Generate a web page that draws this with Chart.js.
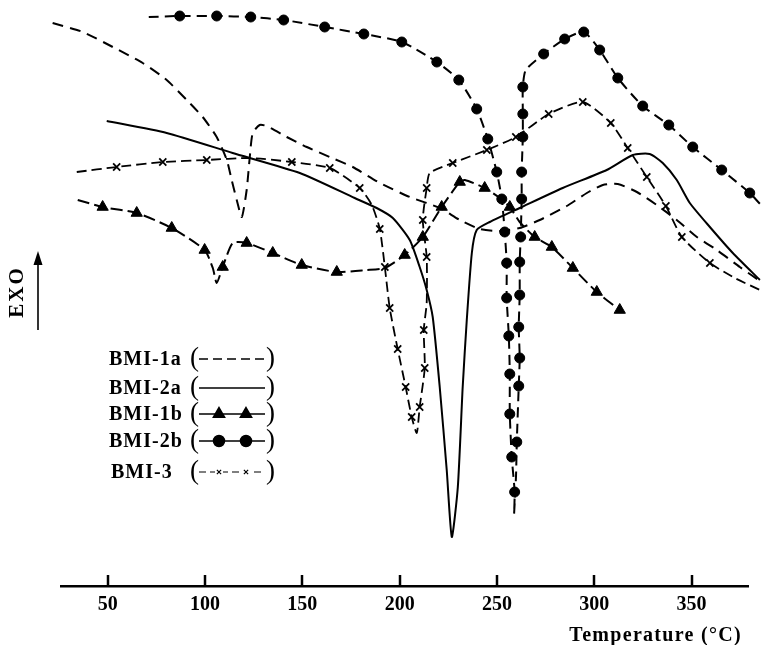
<!DOCTYPE html>
<html><head><meta charset="utf-8">
<script src="https://cdn.jsdelivr.net/npm/chart.js@4/dist/chart.umd.min.js"></script>
<style>html,body{margin:0;padding:0;background:#fff;}canvas{display:block;}</style>
</head><body>
<canvas id="c" width="763" height="645"></canvas>
<script>
// ---- data (temperature °C, relative heat flow) ----
const seriesNames = ['BMI-1a', 'BMI-2a', 'BMI-1b', 'BMI-2b', 'BMI-3'];
const xTickValues = [50, 100, 150, 200, 250, 300, 350];
const xTitle = 'Temperature (°C)';
const yLabel = 'EXO';

const bmi1aCurve = [[21.7,563],[37.2,554],[52.6,539],[68.0,523],[80.3,506],[90.6,486],[98.8,469],[106.0,449],[111.2,426],[113.7,406],[116.3,386],[118.9,369],[121.4,396],[123.0,429],[124.5,453],[128.1,461],[131.7,460],[142.0,449],[152.3,439],[164.1,429],[175.9,419],[189.8,403],[205.2,389],[220.6,378],[230.9,366],[241.2,357],[251.5,355],[261.7,358],[272.0,366],[285.9,380],[296.2,393],[304.4,401],[312.1,402],[321.9,394],[332.1,381],[342.4,366],[352.7,349],[363.0,336],[374.8,319],[386.6,303]];

const bmi2aCurve = [[49.5,465],[80.3,453],[114.2,433],[148.7,413],[176.9,388],[188.2,378],[196.5,368],[205.2,346],[210.3,319],[213.9,296],[217.0,269],[220.6,199],[224.2,116],[226.8,49],[229.9,99],[232.4,199],[234.5,266],[237.1,333],[239.6,356],[246.3,364],[261.7,378],[283.8,398],[306.4,416],[319.8,431],[328.5,432],[335.2,423],[342.4,406],[349.1,383],[359.4,359],[371.2,333],[385.1,306]];

const bmi1bCurve = [[34.6,386],[47.4,379],[64.9,373],[82.9,358],[99.8,336],[104.0,318],[106.0,303],[109.1,319],[114.2,343],[121.4,343],[134.8,333],[149.7,321],[167.7,314],[183.1,316],[192.3,318],[202.6,331],[211.9,349],[221.6,379],[230.9,404],[233.5,406],[243.7,398],[251.5,388],[256.6,379],[261.7,364],[269.4,349],[278.2,339],[289.0,318],[301.3,294],[313.1,276]];
const bmi1bMarks = [[47.4,379],[64.9,373],[82.9,358],[99.8,336],[109.1,319],[121.4,343],[134.8,333],[149.7,321],[167.7,314],[202.6,331],[211.9,349],[221.6,379],[230.9,404],[243.7,398],[256.6,379],[269.4,349],[278.2,339],[289.0,318],[301.3,294],[313.1,276]];

const bmi2bCurve = [[71.1,569],[87.0,570],[106.0,570],[123.5,569],[140.4,566],[161.5,559],[181.6,552],[201.1,544],[219.1,524],[230.4,506],[239.6,477],[245.3,447],[249.9,414],[252.5,387],[254.0,354],[255.0,323],[255.0,288],[256.1,250],[256.6,212],[256.6,172],[257.6,129],[259.1,94],[258.8,72],[259.8,110],[260.2,144],[261.2,200],[261.7,228],[261.2,259],[261.7,291],[261.7,324],[262.2,349],[262.7,387],[262.7,414],[263.3,449],[263.3,472],[263.3,499],[264.8,516],[274.0,532],[284.8,547],[294.6,554],[302.8,536],[312.1,508],[324.9,480],[338.3,461],[350.6,439],[365.5,416],[379.9,393],[386.6,379]];
const bmi2bMarks = [[87.0,570],[106.0,570],[123.5,569],[140.4,566],[161.5,559],[181.6,552],[201.1,544],[219.1,524],[230.4,506],[239.6,477],[245.3,447],[249.9,414],[252.5,387],[254.0,354],[255.0,323],[255.0,288],[256.1,250],[256.6,212],[256.6,172],[257.6,129],[259.1,94],[260.2,144],[261.2,200],[261.7,228],[261.2,259],[261.7,291],[261.7,324],[262.2,349],[262.7,387],[262.7,414],[263.3,449],[263.3,472],[263.3,499],[274.0,532],[284.8,547],[294.6,554],[302.8,536],[312.1,508],[324.9,480],[338.3,461],[350.6,439],[365.5,416],[379.9,393]];

const bmi3Curve = [[34.1,414],[54.6,419],[78.3,424],[100.9,426],[123.0,428],[144.6,424],[164.1,418],[179.5,398],[185.7,381],[189.8,357],[192.4,319],[194.9,278],[199.0,237],[203.1,199],[206.2,169],[208.8,153],[210.3,179],[212.9,218],[212.4,256],[213.9,283],[213.9,329],[211.9,366],[213.9,398],[215.5,413],[227.3,423],[244.8,436],[259.7,449],[276.6,472],[294.1,484],[308.5,463],[317.2,438],[327.0,409],[336.8,380],[345.0,349],[359.4,323],[372.2,308],[385.1,296]];
const bmi3Marks = [[54.6,419],[78.3,424],[100.9,426],[144.6,424],[164.1,418],[179.5,398],[189.8,357],[192.4,319],[194.9,278],[199.0,237],[203.1,199],[206.2,169],[210.3,179],[212.9,218],[212.4,256],[213.9,329],[211.9,366],[213.9,398],[227.3,423],[244.8,436],[259.7,449],[276.6,472],[294.1,484],[308.5,463],[317.2,438],[327.0,409],[336.8,380],[345.0,349],[359.4,323]];

// ---- styles ----
const SERIF = '"Liberation Serif", "DejaVu Serif", serif';
const styles = [
  {dash:[11,7], width:2, marker:null},
  {dash:[], width:2, marker:null},
  {dash:[12,5], width:2, marker:{style:'triangle', r:6.5, lr:6.5, bw:1}},
  {dash:[10,6], width:2, marker:{style:'circle', r:5, lr:5.5, bw:1}},
  {dash:[10,5], width:1.8, marker:{style:'crossRot', r:5, lr:3, bw:1.8}}
];
const curves = [bmi1aCurve, bmi2aCurve, bmi1bCurve, bmi2bCurve, bmi3Curve];
const marks = [null, null, bmi1bMarks, bmi2bMarks, bmi3Marks];
const toXY = a => a.map(p => ({x:p[0], y:p[1]}));

const datasets = [];
curves.forEach((c, i) => {
  datasets.push({label: seriesNames[i], data: toXY(c), showLine: true, borderColor:'#000', borderWidth: styles[i].width,
    borderDash: styles[i].dash, pointRadius: 0, tension: 0.2, fill:false, clip:false});
  if (marks[i]) {
    const m = styles[i].marker;
    datasets.push({label: seriesNames[i] + ' markers', data: toXY(marks[i]), showLine:false, pointStyle: m.style,
      pointRadius: m.r, pointBorderWidth: m.bw, pointBackgroundColor:'#000', pointBorderColor:'#000', clip:false});
  }
});

const decor = {
  id: 'decor',
  afterDraw(chart) {
    const ctx = chart.ctx, xs = chart.scales.x, area = chart.chartArea;
    ctx.save();
    // inward tick marks
    ctx.strokeStyle = '#000'; ctx.lineWidth = 2.5; ctx.setLineDash([]);
    xTickValues.forEach(v => {
      const px = Math.round(xs.getPixelForValue(v));
      ctx.beginPath(); ctx.moveTo(px, area.bottom); ctx.lineTo(px, area.bottom - 11); ctx.stroke();
    });
    // EXO label with arrow
    ctx.save();
    ctx.translate(18, 293); ctx.rotate(-Math.PI/2);
    ctx.fillStyle = '#000'; ctx.font = 'bold 21px ' + SERIF; ctx.textAlign = 'center'; ctx.textBaseline = 'middle';
    ctx.letterSpacing = '2px';
    ctx.fillText(yLabel, 1, 0);
    ctx.restore();
    ctx.lineWidth = 1.6;
    ctx.beginPath(); ctx.moveTo(38, 330); ctx.lineTo(38, 262); ctx.stroke();
    ctx.fillStyle = '#000';
    ctx.beginPath(); ctx.moveTo(38, 251); ctx.lineTo(33.5, 265); ctx.lineTo(42.5, 265); ctx.closePath(); ctx.fill();
    // legend
    const rows = [359, 388, 414, 441, 472];
    rows.forEach((y, i) => {
      const st = styles[i];
      ctx.fillStyle = '#000';
      ctx.font = 'bold 20px ' + SERIF; ctx.textAlign = 'left'; ctx.textBaseline = 'middle';
      ctx.letterSpacing = '1px';
      ctx.fillText(seriesNames[i], i === 4 ? 111 : 109, y + 1);
      ctx.letterSpacing = '0px';
      ctx.font = '27px ' + SERIF;
      ctx.fillText('(', 190, y);
      ctx.fillText(')', 266, y);
      ctx.strokeStyle = '#000'; ctx.lineWidth = i === 4 ? 1.2 : 1.5; ctx.setLineDash(i === 0 ? [9,5] : (i === 4 ? [7,4] : []));
      ctx.beginPath(); ctx.moveTo(199, y); ctx.lineTo(265, y); ctx.stroke();
      ctx.setLineDash([]);
      if (st.marker) {
        const m = st.marker;
        [219, 246].forEach(px => {
          ctx.fillStyle = '#000'; ctx.strokeStyle = '#000';
          if (i === 4) { ctx.fillStyle = '#fff'; ctx.fillRect(px - 4, y - 4, 8, 8); ctx.fillStyle = '#000'; }
          Chart.helpers.drawPoint(ctx, {pointStyle: m.style, radius: m.lr, borderWidth: 1, rotation: 0}, px, y);
        });
      }
    });
    ctx.restore();
  }
};

new Chart(document.getElementById('c'), {
  type: 'scatter',
  data: {datasets},
  options: {
    responsive: false, animation: false, devicePixelRatio: 1,
    layout: {autoPadding: false, padding: {left: 61, right: 15, top: 0, bottom: 0}},
    plugins: {legend: {display: false}, tooltip: {enabled: false}},
    scales: {
      x: {
        type: 'linear', min: 26, max: 379,
        afterBuildTicks: s => { s.ticks = xTickValues.map(v => ({value: v})); },
        afterFit: s => {
          s.height = 59;
          if (!s._spacedTitle) {
            const orig = s.drawTitle;
            s.drawTitle = function () {
              this.ctx.save(); this.ctx.translate(-6, 0); this.ctx.letterSpacing = '1.3px';
              orig.apply(this, arguments); this.ctx.restore();
            };
            s._spacedTitle = true;
          }
        },
        grid: {display: false, drawTicks: false},
        border: {display: true, color: '#000', width: 2.5},
        ticks: {color: '#000', padding: 7, maxRotation: 0, font: {family: SERIF, size: 20, weight: 'bold'}},
        title: {display: true, text: xTitle, align: 'end', color: '#000', padding: {top: 0, bottom: 0},
          font: {family: SERIF, size: 20, weight: 'bold', lineHeight: 0.9}}
      },
      y: {display: false, min: 0, max: 586}
    }
  },
  plugins: [decor]
});
</script>
</body></html>
